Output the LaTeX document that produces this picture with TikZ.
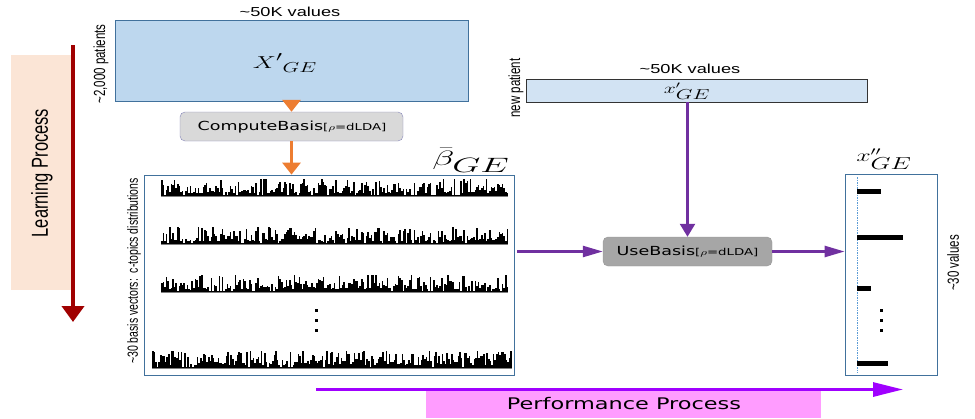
\documentclass[tikz,border=0pt]{standalone}
\usepackage[no-math]{fontspec}
\setmainfont{Liberation Sans}
\newfontfamily\dvs{DejaVu Sans}
\usetikzlibrary{arrows.meta}
\definecolor{peach}{HTML}{FBE5D6}
\definecolor{darkred}{HTML}{A00000}
\definecolor{blueA}{HTML}{BDD7EE}
\definecolor{blueB}{HTML}{D2E3F3}
\definecolor{bordB}{HTML}{41719C}
\definecolor{orangeA}{HTML}{ED7D31}
\definecolor{grayA}{HTML}{D9D9D9}
\definecolor{grayB}{HTML}{A6A6A6}
\definecolor{purpleA}{HTML}{7030A0}
\definecolor{violetA}{HTML}{A000FF}
\definecolor{pinkA}{HTML}{FF9CFF}
\definecolor{dashB}{HTML}{5B9BD5}
\tikzset{
  box/.style={draw=bordB, line width=0.8pt, inner sep=0pt},
  lbl/.style={font=\fontsize{13}{15}\selectfont, xscale=1.4, inner sep=0pt},
  vlbl/.style={font=\fontsize{11.5}{13}\selectfont, xscale=1.4, rotate=90, inner sep=0pt},
  mth/.style={xscale=1.5, inner sep=0pt},
  btxt/.style={font=\dvs\fontsize{12.5}{14}\selectfont, xscale=1.4, inner sep=0pt},
  oarrow/.style={draw=orangeA, line width=3.5pt, -{Triangle[width=18pt,length=12pt]}},
  parrowh/.style={draw=purpleA, line width=2.5pt, -{Triangle[width=11pt,length=20pt]}},
  parrowv/.style={draw=purpleA, line width=2.5pt, -{Triangle[width=15pt,length=13pt]}},
}
\newcommand{\sml}[1]{{\fontsize{9.5}{10}\selectfont #1}}
\begin{document}
\begin{tikzpicture}[x=1pt,y=-1pt]
\useasboundingbox (0,0) rectangle (975,418);
% learning process
\node[fill=peach, minimum width=62pt, minimum height=235pt, inner sep=0pt] (lp) at (42,172.5) {};
\node[font=\fontsize{16.5}{18}\selectfont, xscale=1.4, rotate=90, inner sep=0pt] (lptxt) at (42,173) {Learning Process};
\coordinate (lpa) at (73,45);
\coordinate (lpb) at (73,322);
\draw[darkred, line width=4pt, -{Triangle[width=22pt,length=16pt]}] (lpa) -- (lpb);
% X' box
\node[box, fill=blueA, minimum width=353pt, minimum height=81pt] (X) at (291.5,60.5) {};
\node[mth] (Xt) at (285,63) {\fontsize{19}{23}\selectfont ${X'}_{GE}$};
\node[lbl] (Xw) at (290,12) {\textasciitilde 50K values};
\node[vlbl] (Xh) at (101,64) {\textasciitilde 2,000 patients};
% compute basis
\node[draw=grayB!80!blue, fill=grayA, rounded corners=5pt, minimum width=223pt, minimum height=29pt, inner sep=0pt] (cb) at (291.5,126.5) {};
\node[btxt] (cbt) at (292,127) {ComputeBasis\sml{[$\rho$=dLDA]}};
\draw[oarrow] (X.south -| cb.north) -- (cb.north);
% basis box
\node[box, minimum width=370pt, minimum height=200pt] (B) at (329,275) {};
\draw[oarrow] (cb.south) -- (cb.south |- B.north);
\node[xscale=1.75, inner sep=0pt] (Bt) at (471,160) {\fontsize{22}{26}\selectfont$\bar{\beta}_{\textstyle GE}$};
\node[vlbl, font=\fontsize{10.5}{12}\selectfont] (Bh) at (134,271) {\textasciitilde 30 basis vectors:\ \ c-topics distributions};
% bars
\pgfmathsetseed{11}
\foreach \yb/\xa/\xb/\nn in {196/161/508/216, 244/161/508/216, 292/161/508/216, 368/152/512/224}{
  \draw[gray, line width=0.7pt] (\xa,\yb) -- (\xb,\yb);
  \foreach \k in {0,...,\nn}{
    \pgfmathsetmacro\hh{rnd<0.1 ? 0.8 : 2.5+15*pow(rnd,1.4)}
    \pgfmathsetmacro\xx{\xa+1.6*\k}
    \fill[black] (\xx,\yb) rectangle ++(1.5,-\hh);
  }
}
\foreach \yy in {310,320,330}{ \fill (314.5,\yy-1.5) rectangle ++(3.5,3); }
% new patient
\node[draw=black!80, line width=0.8pt, fill=blueB, minimum width=341pt, minimum height=23pt, inner sep=0pt] (xp) at (696.5,90.5) {};
\node[mth] (xpt) at (687,91) {\fontsize{14}{16}\selectfont $x'_{\textstyle GE}$};
\node[lbl] (xpw) at (690,69) {\textasciitilde 50K values};
\node[vlbl] (xph) at (516,88) {new patient};
% use basis
\node[draw=grayB!90!black, fill=grayB, rounded corners=5pt, minimum width=169pt, minimum height=29pt, inner sep=0pt] (ub) at (687.5,251.5) {};
\node[btxt] (ubt) at (687.5,252) {UseBasis\sml{[$\rho$=dLDA]}};
\draw[parrowv] (xp.south -| ub.north) -- (ub.north);
\draw[parrowh] ([xshift=3pt]B.east |- ub.west) -- (ub.west);
% output
\node[box, minimum width=92pt, minimum height=201pt] (xo) at (891,274.5) {};
\draw[parrowh] (ub.east) -- (xo.west |- ub.east);
\coordinate (da) at (857,177);
\coordinate (db) at (857,373);
\draw[dashB, line width=0.6pt, dash pattern=on 1.5pt off 1pt] (da) -- (db);
\foreach \yy/\xe in {191/881, 237/903, 288/871, 363/888}{ \fill (857,\yy-2.5) rectangle (\xe,\yy+2.5); }
\foreach \yy in {310,320,330}{ \fill (879.5,\yy-1.5) rectangle ++(3.5,3); }
\node[mth] (xot) at (884,159) {\fontsize{17}{20}\selectfont $x''_{\textstyle GE}$};
\node[vlbl] (xoh) at (953,263) {\textasciitilde 30 values};
% performance process
\node[fill=pinkA, minimum width=395pt, minimum height=27pt, inner sep=0pt] (pp) at (623.5,404.5) {};
\node[font=\dvs\fontsize{16}{18}\selectfont, xscale=1.4, inner sep=0pt] (ppt) at (624,404) {Performance Process};
\coordinate (pa) at (316,389.5);
\coordinate (pb) at (903,389.5);
\draw[violetA, line width=3pt, -{Triangle[width=14pt,length=30pt]}] (pa) -- (pb);
\end{tikzpicture}
\end{document}
